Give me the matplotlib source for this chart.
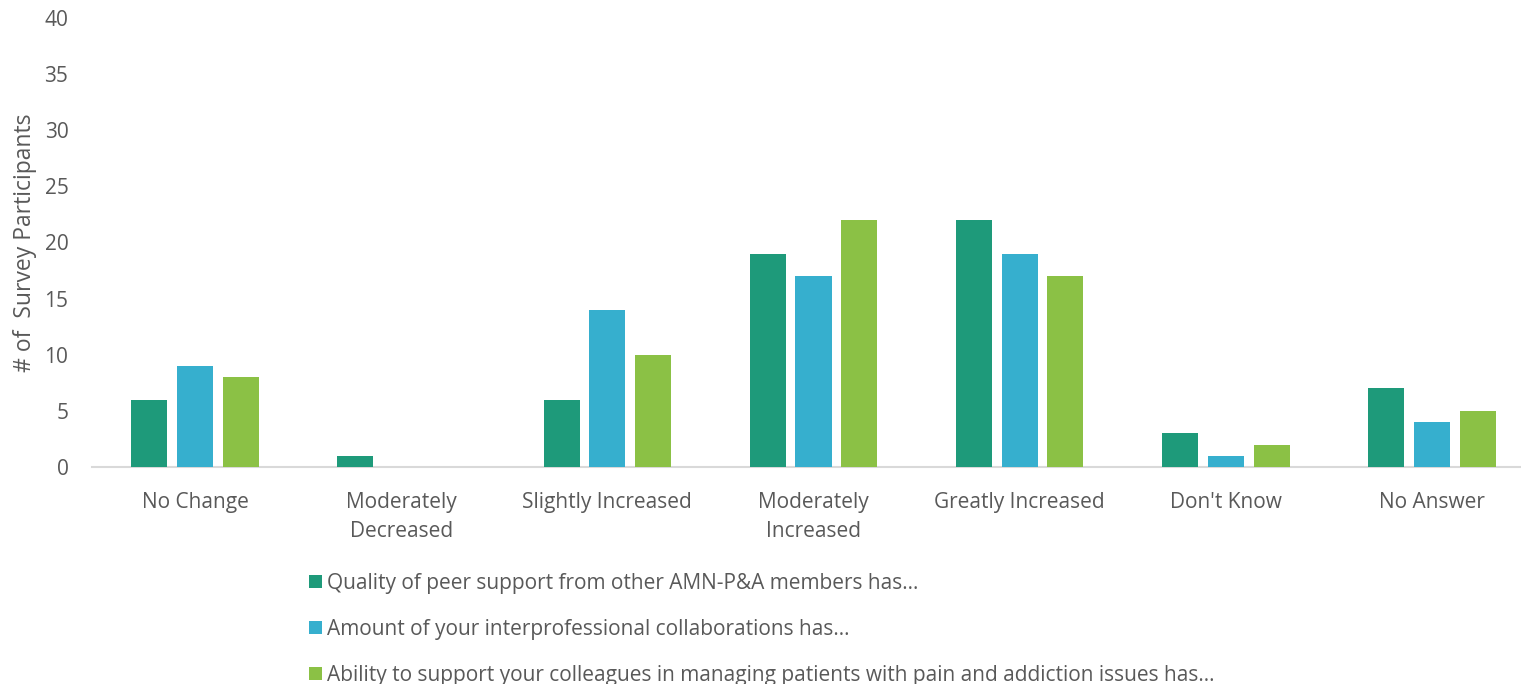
import matplotlib
matplotlib.use("Agg")
import matplotlib.pyplot as plt
import numpy as np

categories = ["No Change", "Moderately\nDecreased", "Slightly Increased",
              "Moderately\nIncreased", "Greatly Increased", "Don't Know", "No Answer"]
series_names = [
    "Quality of peer support from other AMN-P&A members has…",
    "Amount of your interprofessional collaborations has…",
    "Ability to support your colleagues in managing patients with pain and addiction issues has…",
]
quality = [6, 1, 6, 19, 22, 3, 7]
amount = [9, 0, 14, 17, 19, 1, 4]
ability = [8, 0, 10, 22, 17, 2, 5]
colors = ["#1E9A7A", "#36AFCE", "#8BC145"]

plt.rcParams['font.family'] = ['Open Sans', 'DejaVu Sans']
txt = "#595959"

fig = plt.figure(figsize=(15.21, 6.84), dpi=100)
ax = fig.add_axes([92/1521, 1-467/684, (1535-92)/1521, (467-18)/684])

x = np.arange(len(categories))
w = 0.175
off = 0.222
for i, (vals, name) in enumerate(zip([quality, amount, ability], series_names)):
    ax.bar(x + (i-1)*off, vals, width=w, color=colors[i], label=name, zorder=3)

ax.set_xlim(-0.5, len(categories)-0.5)
ax.set_ylim(0, 40)
ax.set_yticks(range(0, 41, 5))
ax.set_xticks(x)
ax.set_xticklabels(categories, fontsize=15, color=txt, linespacing=1.52)
ax.tick_params(axis='y', labelsize=15, labelcolor=txt, length=0, pad=17)
ax.tick_params(axis='x', length=0, pad=18)
for s in ['top', 'right', 'left']:
    ax.spines[s].set_visible(False)
ax.spines['bottom'].set_color('#D9D9D9')
ax.spines['bottom'].set_linewidth(1.5)
ax.set_ylabel("# of  Survey Participants", fontsize=16.5, color=txt, labelpad=5)

leg = fig.legend(loc='upper left', bbox_to_anchor=(309/1521, 1-573/684), frameon=False,
                 fontsize=15, handlelength=0.6, handleheight=0.6, handletextpad=0.25,
                 labelspacing=1.2, borderaxespad=0, borderpad=0)
for t in leg.get_texts():
    t.set_color(txt)

fig.savefig("out.png", dpi=100)
